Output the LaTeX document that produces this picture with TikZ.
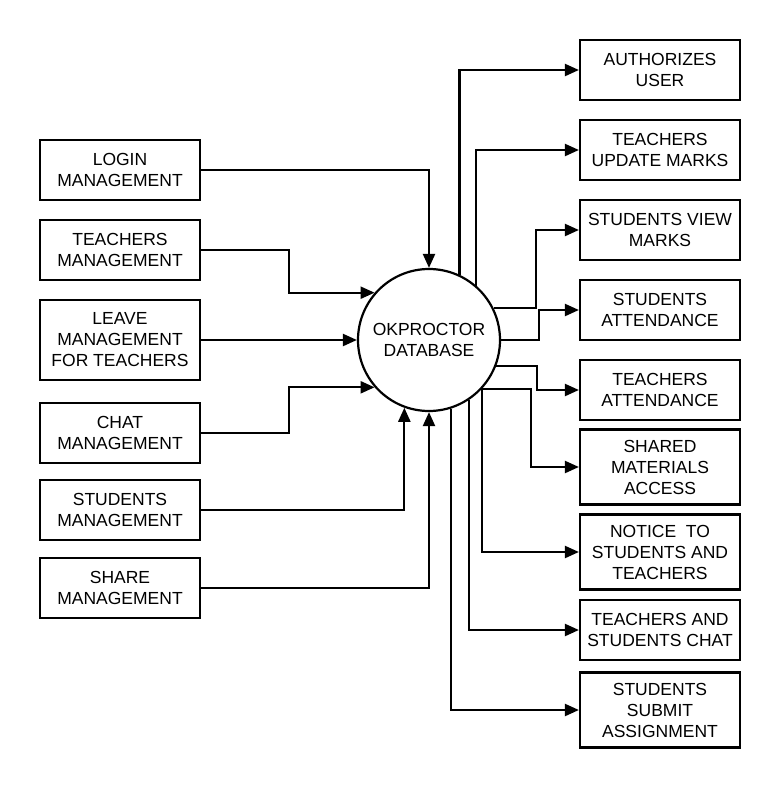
\documentclass[tikz,border=0pt]{standalone}
\usepackage{fontspec}
\setmainfont{Liberation Sans}
\usepackage{tikz}
\usetikzlibrary{positioning, arrows.meta, calc}

\begin{document}
\begin{tikzpicture}[
    x=1pt, y=-1pt,
    flow/.style={-{Triangle[length=14pt, width=12pt]}, line width=2.2pt},
    box/.style={draw, line width=2.2pt, minimum width=160pt, minimum height=60pt,
        inner sep=2pt, align=center, font=\fontsize{17.5}{21}\selectfont},
    tallbox/.style={box, minimum height=75pt},
    store/.style={draw, circle, line width=2.2pt, minimum size=142pt, inner sep=0pt,
        align=center, font=\fontsize{17.5}{21}\selectfont}
]
    \useasboundingbox (0,0) rectangle (780,787);

    % === Database ===
    \node[store] (db) at (429,340) {OKPROCTOR\\DATABASE};

    % === Left inputs ===
    \node[box] (login) at (120,170) {LOGIN\\MANAGEMENT};
    \node[box] (tmgmt) at (120,250) {TEACHERS\\MANAGEMENT};
    \node[box, minimum height=80pt] (leave) at (120,340) {LEAVE\\MANAGEMENT\\FOR TEACHERS};
    \node[box] (chat) at (120,433) {CHAT\\MANAGEMENT};
    \node[box] (smgmt) at (120,510) {STUDENTS\\MANAGEMENT};
    \node[box] (share) at (120,588) {SHARE\\MANAGEMENT};

    % === Right outputs ===
    \node[box] (auth) at (660,70) {AUTHORIZES\\USER};
    \node[box] (tupd) at (660,150) {TEACHERS\\UPDATE MARKS};
    \node[box] (sview) at (660,230) {STUDENTS VIEW\\MARKS};
    \node[box] (satt) at (660,310) {STUDENTS\\ATTENDANCE};
    \node[box] (tatt) at (660,390) {TEACHERS\\ATTENDANCE};
    \node[tallbox] (smat) at (660,467) {SHARED\\MATERIALS\\ACCESS};
    \node[tallbox] (notice) at (660,552) {NOTICE\ \ TO\\STUDENTS AND\\TEACHERS};
    \node[box] (tchat) at (660,630) {TEACHERS AND\\STUDENTS CHAT};
    \node[tallbox] (submit) at (660,710) {STUDENTS\\SUBMIT\\ASSIGNMENT};

    % Inputs into the database
    \draw[flow] (login.east) -| (db.north);
    \draw[flow] (tmgmt.east) -- ++(88,0) |- (db.139);
    \draw[flow] (leave.east) -- (db.west);
    \draw[flow] (chat.east) -- ++(88,0) |- (db.221);
    \draw[flow] (smgmt.east) -| (db.250);
    \draw[flow] (share.east) -| (db.south);

    % Outputs from the database
    \draw[flow] (db.65) |- (auth.west);
    \draw[flow] (db.49) |- (tupd.west);
    \draw[flow] (db.26) -- ++(42,0) |- (sview.west);
    \draw[flow] (db.east) -- ++(38,0) |- (satt.west);
    \draw[flow] (db.-21) -- ++(41,0) |- (tatt.west);
    \draw[flow] (db.-43) -- ++(49,0) |- (smat.west);
    \draw[flow] (db.-43) |- (notice.west);
    \draw[flow] (db.-56) |- (tchat.west);
    \draw[flow] (db.-72) |- (submit.west);

\end{tikzpicture}
\end{document}
